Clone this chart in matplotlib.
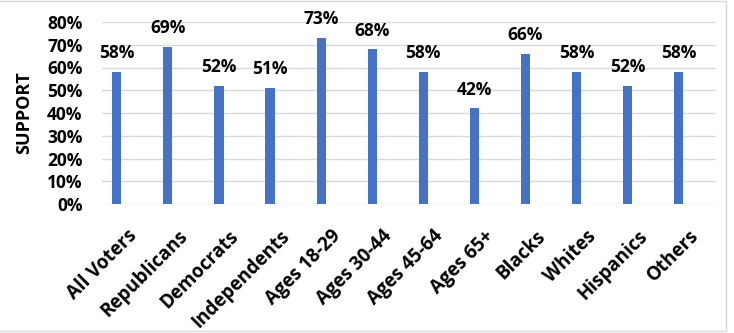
import numpy as np
import matplotlib.pyplot as plt
import matplotlib.transforms as mtransforms
from matplotlib.patches import Rectangle

groups = ['All Voters', 'Republicans', 'Democrats', 'Independents', 'Ages 18-29',
          'Ages 30-44', 'Ages 45-64', 'Ages 65+', 'Blacks', 'Whites', 'Hispanics', 'Others']
support = [58, 69, 52, 51, 73, 68, 58, 42, 66, 58, 52, 58]

plt.rcParams['font.family'] = ['Open Sans', 'DejaVu Sans']

fig = plt.figure(figsize=(7.34, 3.33), dpi=100)
ax = fig.add_axes([102 / 734, 1 - 204 / 333, 614 / 734, 182 / 333])

x = np.arange(len(groups))
ax.bar(x, support, width=0.18, color='#4472C4', zorder=3)
for xi, v in zip(x, support):
    ax.text(xi, v + 4.3, '%d%%' % v, ha='center', va='bottom',
            fontsize=12.5, fontweight='bold', color='black')

ax.set_ylim(0, 80)
ax.set_xlim(-0.29, len(groups) - 1 + 0.73)
ax.set_yticks(range(0, 81, 10))
ax.set_yticklabels(['%d%%' % t for t in range(0, 81, 10)], fontsize=12.5, fontweight='bold')
ax.set_xticks(x)
ax.set_xticklabels(groups, rotation=45, ha='right', rotation_mode='anchor',
                   fontsize=13.5, fontweight='bold')
ax.tick_params(axis='x', length=0, pad=16)
ax.tick_params(axis='y', length=0, pad=14)
shift = mtransforms.ScaledTranslation(10 / 100, 0, fig.dpi_scale_trans)
for lab in ax.get_xticklabels():
    lab.set_transform(lab.get_transform() + shift)
ax.grid(axis='y', color='#D9D9D9', linewidth=1, zorder=0)
for s in ax.spines.values():
    s.set_visible(False)
ax.set_ylabel('SUPPORT', fontsize=13, fontweight='bold', labelpad=10)

fig.patches.append(Rectangle((-0.01, 0.006), 0.9985, 0.99, transform=fig.transFigure,
                             fill=False, edgecolor='#D9D9D9', linewidth=1))

fig.savefig('out.png', dpi=100)
